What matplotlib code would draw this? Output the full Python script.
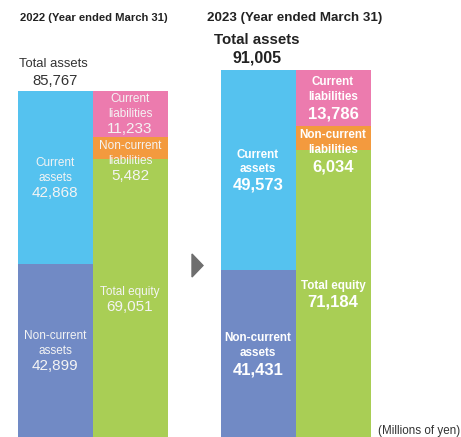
import matplotlib.pyplot as plt
from matplotlib.patches import Polygon

# balance sheet, millions of yen
years = ["2022", "2023"]
total_assets = [85767, 91005]
current_assets = [42868, 49573]
noncurrent_assets = [42899, 41431]
current_liab = [11233, 13786]
noncurrent_liab = [5482, 6034]
total_equity = [69051, 71184]

c_blue = "#55c2ef"
c_slate = "#718ac5"
c_pink = "#ec7bae"
c_orange = "#f39a3e"
c_green = "#a9ce55"

W, H = 461, 437
fig = plt.figure(figsize=(W / 100, H / 100), dpi=100)
ax = fig.add_axes([0, 0, 1, 1])
scale = 0.00403  # px per million yen
ax.set_xlim(0, W)
ax.set_ylim(0, H / scale)
ax.axis("off")

sans = ["Liberation Sans", "DejaVu Sans"]

def px(x, y):
    return x / W, 1 - y / H

def txt(x, y, s, size, weight="normal", color="white", ha="center"):
    fig.text(*px(x, y), s, fontsize=size, fontweight=weight, color=color,
             ha=ha, va="center", family=sans)

bw = 75
lefts = [55, 258]  # asset bar centres
for i in range(2):
    xa = lefts[i]
    xl = xa + bw
    ax.bar(xa, noncurrent_assets[i], bw, color=c_slate, linewidth=0)
    ax.bar(xa, current_assets[i], bw, bottom=noncurrent_assets[i], color=c_blue, linewidth=0)
    ax.bar(xl, total_equity[i], bw, color=c_green, linewidth=0)
    ax.bar(xl, noncurrent_liab[i], bw, bottom=total_equity[i], color=c_orange, linewidth=0)
    ax.bar(xl, current_liab[i], bw, bottom=total_equity[i] + noncurrent_liab[i],
           color=c_pink, linewidth=0)

def fmt(v):
    return f"{v:,}"

# 2022 (regular weight)
txt(20, 18, "2022 (Year ended March 31)", 8.1, "bold", "#222222", "left")
txt(19, 64, "Total assets", 9.4, color="#333333", ha="left")
txt(55, 81, fmt(total_assets[0]), 10.7, color="#333333")
for xc, lines, val, ys in [
    (55, ["Current", "assets"], current_assets[0], (163, 178, 193)),
    (55, ["Non-current", "assets"], noncurrent_assets[0], (336, 351, 366)),
    (130, ["Current", "liabilities"], current_liab[0], (99, 114, 129)),
    (130, ["Non-current", "liabilities"], noncurrent_liab[0], (146, 161, 176)),
    (130, ["Total equity"], total_equity[0], (292, 307)),
]:
    for s, y in zip(lines, ys):
        txt(xc, y, s, 8.5, color="#f4f4f4")
    txt(xc, ys[-1], fmt(val), 11, color="#f4f4f4")

# 2023 (bold)
txt(207, 18, "2023 (Year ended March 31)", 9.6, "bold", "#222222", "left")
txt(257, 40, "Total assets", 10.8, "bold", "#222222")
txt(257, 58, fmt(total_assets[1]), 11.5, "bold", "#222222")
for xc, lines, val, ys in [
    (258, ["Current", "assets"], current_assets[1], (155, 169, 185)),
    (258, ["Non-current", "assets"], noncurrent_assets[1], (338, 353, 370)),
    (333, ["Current", "liabilities"], current_liab[1], (82, 97, 114)),
    (333, ["Non-current", "liabilities"], noncurrent_liab[1], (135, 150, 167)),
    (333, ["Total equity"], total_equity[1], (286, 302)),
]:
    for s, y in zip(lines, ys):
        txt(xc, y, s, 8.4, "bold")
    txt(xc, ys[-1], fmt(val), 12, "bold")

# arrow between years
tri = Polygon([px(192, 254), px(192, 277), px(203, 265.5)], closed=True,
              transform=fig.transFigure, color="#6e6e6e")
fig.patches.append(tri)

txt(460, 431, "(Millions of yen)", 8.4, color="#333333", ha="right")

fig.savefig("out.png", dpi=100)
